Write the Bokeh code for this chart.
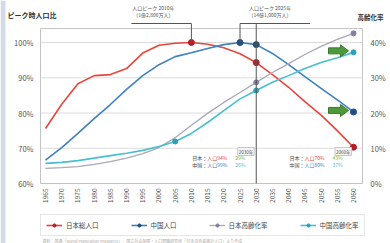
import math
from bokeh.plotting import figure
from bokeh.models import Range1d, Legend, LegendItem, BoxAnnotation
from bokeh.core.properties import value
from bokeh.embed import file_html
from bokeh.resources import INLINE

FONT = "Noto Sans CJK JP"

# ---------------- data ----------------
years = [1965, 1970, 1975, 1980, 1985, 1990, 1995, 2000, 2005, 2010,
         2015, 2020, 2025, 2030, 2035, 2040, 2045, 2050, 2055, 2060]
japan_pop = [75.6, 82.5, 88.3, 90.6, 90.9, 92.6, 97.0, 99.2, 99.8, 100.0,
             99.5, 98.5, 96.8, 94.3, 90.9, 87.3, 83.2, 79.4, 75.0, 70.3]
china_pop = [66.6, 70.2, 74.2, 78.4, 82.4, 86.7, 90.6, 93.7, 96.0, 97.1,
             98.3, 99.4, 100.0, 99.4, 96.9, 93.7, 90.3, 87.0, 83.7, 80.3]
japan_aging = [4.3, 4.5, 4.8, 5.4, 6.2, 7.2, 8.5, 10.2, 13.0, 16.5,
               19.9, 23.0, 25.8, 28.7, 31.5, 34.0, 36.6, 38.9, 40.9, 42.6]
china_aging = [5.7, 6.0, 6.5, 7.2, 7.9, 8.6, 9.4, 10.5, 11.9, 14.2,
               17.3, 20.7, 24.0, 26.4, 28.7, 30.6, 32.6, 34.3, 35.7, 37.2]

left_ticks = [60, 70, 80, 90, 100]
right_ticks = [0, 10, 20, 30, 40]

red_marker_years = [2010, 2030, 2060]
blue_marker_years = [2025, 2030, 2060]
gray_marker_years = [2030, 2060]
cyan_marker_years = [2005, 2030, 2060]

japan_peak_year = 2010
china_peak_year = 2025
focus_years = [2030, 2060]

series_labels = ["日本総人口", "中国人口", "日本高齢化率", "中国高齢化率"]
left_title = "ピーク時人口比"
right_title = "高齢化率"
callout_japan = ["人口ピーク 2010年", "（1億2,806万人）"]
callout_china = ["人口ピーク 2025年", "（14億1,000万人）"]
source_note = "資料：国連「World Population Prospects」、国立社会保障・人口問題研究所「日本の将来推計人口」より作成"

# ---------------- styles / layout ----------------
RED, RED_D = "#e8453c", "#b3202a"
BLUE, BLUE_D = "#3f80c0", "#1f4f80"
GRAY, GRAY_D = "#a8a8b8", "#8080a0"
CYAN, CYAN_D = "#48bfd0", "#2a9fb8"
GREEN = "#7ab648"
DARK = "#444444"
AXIS_C = "#c4c4c4"
GRID_C = "#dcdcdc"
LBL_C = "#555555"

W, H = 390, 243
# the frame fills the whole canvas; pixel calibration of the scales
px_x = (353 - 45) / (2060 - 1965)
px_y = (183 - 42) / (100 - 60)
X0 = 1965 - 45 / px_x
X1 = X0 + W / px_x
Y1 = 60 + 183 / px_y
Y0 = Y1 - H / px_y
SHIFT = 60.0                       # left value 60 <-> right value 0

def cx(px):   # canvas px -> data x
    return X0 + px / px_x

def cy(py):   # canvas px (from top) -> left data y
    return Y1 - py / px_y

PL, PR, PT, PB = cx(40), cx(362), cy(28), cy(183)   # plot box

p = figure(width=W, height=H, x_range=Range1d(X0, X1), y_range=Range1d(Y0, Y1),
           output_backend="svg", toolbar_location=None,
           x_axis_location=None, y_axis_location=None,
           min_border_left=0, min_border_right=0, min_border_top=0, min_border_bottom=0)
p.extra_y_ranges = {"r": Range1d(Y0 - SHIFT, Y1 - SHIFT)}
p.outline_line_color = None
p.background_fill_color = "white"
p.border_fill_color = "white"
p.xgrid.visible = False
p.ygrid.visible = False

# page strip on the left edge
p.add_layout(BoxAnnotation(left=X0, right=cx(5), fill_color="#d3dbe7", fill_alpha=1, line_color=None))

# grid lines and plot box
p.segment(x0=[PL] * len(left_ticks), x1=[PR] * len(left_ticks), y0=left_ticks, y1=left_ticks,
          line_color=GRID_C, line_width=1)
p.segment(x0=[PL, PR, PL, PL], x1=[PL, PR, PR, PR], y0=[PB, PB, PT, PB], y1=[PT, PT, PT, PB],
          line_color=AXIS_C, line_width=1)

# tick labels
TF = value(FONT)
p.text(x=[PL - 7 / px_x] * len(left_ticks), y=left_ticks, text=[f"{t}%" for t in left_ticks],
       text_align="right", text_baseline="middle", text_font=TF, text_font_size="7.5px",
       text_color=LBL_C)
p.text(x=[PR + 8 / px_x] * len(right_ticks), y=right_ticks, text=[f"{t}%" for t in right_ticks],
       y_range_name="r", text_align="left", text_baseline="middle", text_font=TF,
       text_font_size="7.5px", text_color=LBL_C)
p.text(x=years, y=[PB - 5 / px_y] * len(years), text=[str(y) for y in years], angle=math.pi / 2,
       text_align="right", text_baseline="middle", text_font=TF, text_font_size="6.5px",
       text_color=LBL_C)

# axis titles
p.text(x=[cx(7)], y=[cy(9)], text=[left_title], text_align="left", text_baseline="top",
       text_font=TF, text_font_size="7px", text_font_style="bold", text_color="#333333")
p.text(x=[cx(357)], y=[cy(11)], text=[right_title], text_align="left", text_baseline="top",
       text_font=TF, text_font_size="6.5px", text_font_style="bold", text_color="#333333")

# series
def sub(xs, ys, keep):
    return [y for x, y in zip(xs, ys) if x in keep]

r1 = p.line(years, japan_pop, line_color=RED, line_width=1.6)
m1 = p.scatter(red_marker_years, sub(years, japan_pop, red_marker_years), size=6,
               fill_color=RED_D, line_color=RED_D)
r2 = p.line(years, china_pop, line_color=BLUE, line_width=1.6)
m2 = p.scatter(blue_marker_years, sub(years, china_pop, blue_marker_years), size=6,
               fill_color=BLUE_D, line_color=BLUE_D)
r3 = p.line(years, japan_aging, line_color=GRAY, line_width=1.3, y_range_name="r")
m3 = p.scatter(gray_marker_years, sub(years, japan_aging, gray_marker_years), size=5,
               fill_color=GRAY_D, line_color=GRAY_D, y_range_name="r")
r4 = p.line(years, china_aging, line_color=CYAN, line_width=1.6, y_range_name="r")
m4 = p.scatter(cyan_marker_years, sub(years, china_aging, cyan_marker_years), size=5,
               fill_color=CYAN_D, line_color=CYAN_D, y_range_name="r")

# brackets / reference lines
BRACKET_Y = cy(23)
jp_peak_val = japan_pop[years.index(japan_peak_year)]
cn_peak_val = china_pop[years.index(china_peak_year)]
p.segment(x0=[japan_peak_year - 60 / px_x, japan_peak_year, china_peak_year, china_peak_year, focus_years[0]],
          y0=[BRACKET_Y] * 5,
          x1=[japan_peak_year, japan_peak_year, china_peak_year + 70 / px_x, china_peak_year, focus_years[0]],
          y1=[BRACKET_Y, jp_peak_val, BRACKET_Y, cn_peak_val, PB],
          line_color="#555555", line_width=1)

# callout texts above the brackets
for yr, off, lines in [(japan_peak_year, -38, callout_japan), (china_peak_year, 30, callout_china)]:
    p.text(x=[yr + off / px_x] * len(lines), y=[cy(3), cy(10)], text=lines,
           text_align="center", text_baseline="top", text_font=TF, text_font_size="5px",
           text_color="#555555")

# bottom annotation blocks at 2030 / 2060
rows = [("日本：", japan_pop, RED, japan_aging, GREEN),
        ("中国：", china_pop, BLUE, china_aging, CYAN)]
for fy in focus_years:
    i = years.index(fy)
    p.text(x=[fy - 2 / px_x], y=[PB + 32 / px_y], text=[f"{fy}年"], text_align="right",
           text_baseline="middle", text_font=TF, text_font_size="4.5px", text_color=LBL_C,
           border_line_color="#c8c8c8", background_fill_color="#f4f4f4", padding=1)
    for k, (nm, pop, pc, ag, ac) in enumerate(rows):
        yy = PB + (26 - 7 * k) / px_y
        for dxp, t, c in [(-64, nm, DARK), (-49, f"人口{pop[i]:.0f}%", pc), (-21, f"{ag[i]:.0f}%", ac)]:
            p.text(x=[fy + dxp / px_x], y=[yy], text=[t], text_align="left",
                   text_baseline="middle", text_font=TF, text_font_size="5px", text_color=c)

# green arrows pointing at China's 2060 values
def arrow(xt, yt):
    shape = [(0, 0), (-8, 6), (-8, 3), (-20, 3), (-20, -3), (-8, -3), (-8, -6)]
    return [xt + sx / px_x for sx, sy in shape], [yt + sy / px_y for sx, sy in shape]

tip_x = years[-1] - 5 / px_x
ax1, ay1 = arrow(tip_x, china_aging[-1] + 1.5 / px_y)
ax2, ay2 = arrow(tip_x, china_pop[-1] + 1.5 / px_y)
p.patch(ax1, ay1, fill_color="#4e9a3a", line_color="#3a7a2a", y_range_name="r")
p.patch(ax2, ay2, fill_color="#4e9a3a", line_color="#3a7a2a")

# source note
p.text(x=[cx(42)], y=[cy(240)], text=[source_note], text_align="left", text_baseline="middle",
       text_font=TF, text_font_size="4px", text_color="#aaaaaa")

# legend (frame == canvas, location in px from bottom-left)
legend = Legend(items=[LegendItem(label=series_labels[0], renderers=[r1, m1]),
                       LegendItem(label=series_labels[1], renderers=[r2, m2]),
                       LegendItem(label=series_labels[2], renderers=[r3, m3]),
                       LegendItem(label=series_labels[3], renderers=[r4, m4])],
                orientation="horizontal", location=(40, 7))
legend.label_text_font = FONT
legend.label_text_font_size = "6.5px"
legend.label_text_color = "#444444"
legend.glyph_width = 16
legend.glyph_height = 8
legend.label_standoff = 4
legend.spacing = 32
legend.padding = 5
legend.margin = 0
legend.border_line_color = "#cccccc"
legend.label_height = 8
p.add_layout(legend, "center")

open("out.html", "w").write(file_html(p, INLINE))
